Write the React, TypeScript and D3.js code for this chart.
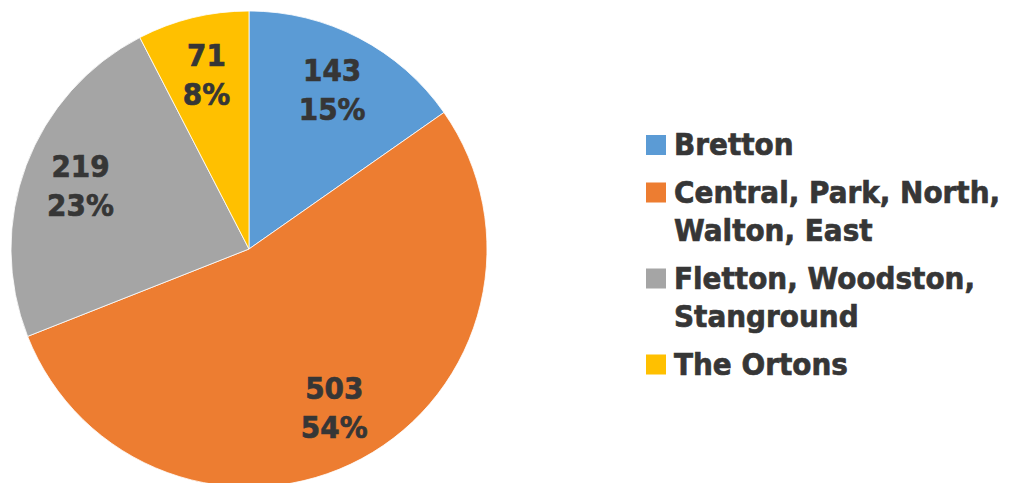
import React from "react";
import * as d3 from "d3";

const categories = ["Bretton", "Central, Park, North, Walton, East", "Fletton, Woodston, Stanground", "The Ortons"];
const values = [143, 503, 219, 71];
const legendLines = [["Bretton"], ["Central, Park, North,", "Walton, East"], ["Fletton, Woodston,", "Stanground"], ["The Ortons"]];
const colors = ["#5B9BD5", "#ED7D31", "#A5A5A5", "#FFC000"];

const W = 1011, H = 483;
const cx = 249, cy = 249, R = 238, labelR = 180;
const FONT = "'DejaVu Sans', Verdana, sans-serif";
const TEXT = "#363636";
const SX = 0.93;

export default function App() {
  const total = d3.sum(values);
  const pie = d3.pie<number>().sort(null).value((d) => d);
  const arcs = pie(values);
  const arc = d3.arc<d3.PieArcDatum<number>>().innerRadius(0).outerRadius(R);
  const labelArc = d3.arc<d3.PieArcDatum<number>>().innerRadius(labelR).outerRadius(labelR);
  const legendX = 646, textX = 674, lineH = 38.5, entryGap = 47.5;
  let y = 155;
  const legendItems = legendLines.map((lines, i) => {
    const baseline = y;
    y += (lines.length - 1) * lineH + entryGap;
    return { lines, baseline, i };
  });
  const txtProps = { fontSize: 30, fontWeight: "bold" as const, fill: TEXT, stroke: TEXT, strokeWidth: 0.7 };
  return (
    <svg width={W} height={H} style={{ position: "absolute", left: 0, top: 0 }} fontFamily={FONT}>
      <rect width={W} height={H} fill="#fff" />
      <g transform={`translate(${cx},${cy})`}>
        {arcs.map((a, i) => (
          <path key={i} d={arc(a) || ""} fill={colors[i]} stroke="#fff" strokeWidth={0.8} />
        ))}
        {arcs.map((a, i) => {
          const [x, yy] = labelArc.centroid(a);
          const pct = Math.round((values[i] / total) * 100);
          return (
            <g key={i} transform={`translate(${x},${yy}) scale(${SX},1)`}>
              <text textAnchor="middle" {...txtProps}>
                <tspan x={0} y={-8.5}>{values[i]}</tspan>
                <tspan x={0} y={30.5}>{pct}%</tspan>
              </text>
            </g>
          );
        })}
      </g>
      {legendItems.map(({ lines, baseline, i }) => (
        <g key={i}>
          <rect x={legendX} y={baseline - 20} width={20} height={20} fill={colors[i]} />
          <g transform={`translate(${textX},${baseline}) scale(${SX},1)`}>
            <text {...txtProps}>
              {lines.map((l, j) => (
                <tspan key={j} x={0} y={j * lineH}>{l}</tspan>
              ))}
            </text>
          </g>
        </g>
      ))}
    </svg>
  );
}
